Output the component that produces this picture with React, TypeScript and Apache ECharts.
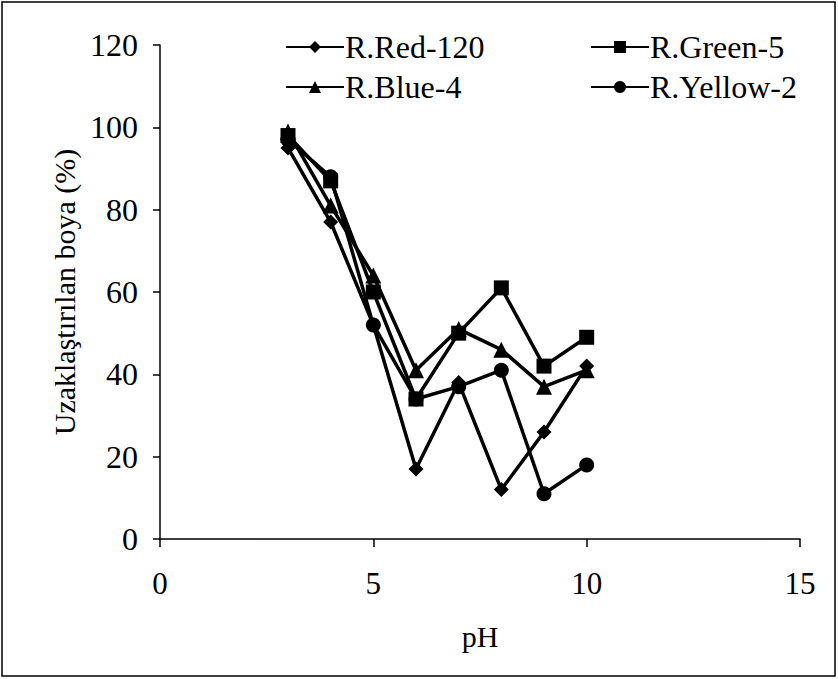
import React, { useEffect, useRef } from "react";
import * as echarts from "echarts";

const phValues = [3, 4, 5, 6, 7, 8, 9, 10];
const redValues = [95, 77, 52, 17, 38, 12, 26, 42];
const greenValues = [98, 87, 60, 34, 50, 61, 42, 49];
const blueValues = [99, 81, 64, 41, 51, 46, 37, 41];
const yellowValues = [97, 88, 52, 34, 37, 41, 11, 18];
const seriesNames = ["R.Red-120", "R.Green-5", "R.Blue-4", "R.Yellow-2"];
const seriesSymbols = ["diamond", "rect", "triangle", "circle"];
const seriesSizes = [15, 15, 16, 15];

const FONT = "Liberation Serif";

export default function App() {
  const ref = useRef<HTMLDivElement>(null);
  useEffect(() => {
    if (!ref.current) return;
    const chart = echarts.init(ref.current, null, { renderer: "svg" });
    const allValues = [redValues, greenValues, blueValues, yellowValues];
    const series = allValues.map((vals, i) => ({
      name: seriesNames[i],
      type: "line",
      data: phValues.map((x, j) => [x, vals[j]]),
      symbol: seriesSymbols[i],
      symbolSize: seriesSizes[i],
      showAllSymbol: true,
      lineStyle: { color: "#000", width: 3.5 },
      itemStyle: { color: "#000" },
      emphasis: { disabled: true },
    }));
    const legendCommon = {
      orient: "vertical",
      itemWidth: 58,
      itemHeight: 15,
      itemGap: 8,
      textStyle: { fontFamily: FONT, fontSize: 32, color: "#000", padding: [0, 0, 0, -4] },
      inactiveColor: "#000",
      selectedMode: false,
    };
    chart.setOption({
      animation: false,
      backgroundColor: "#fff",
      textStyle: { fontFamily: FONT },
      grid: { left: 160, right: 38, top: 45, bottom: 140, containLabel: false },
      legend: [
        { ...legendCommon, left: 280, top: 26, data: [seriesNames[0], seriesNames[2]] },
        { ...legendCommon, left: 585, top: 26, data: [seriesNames[1], seriesNames[3]] },
      ],
      graphic: [
        {
          type: "rect",
          shape: { x: 2, y: 2, width: 833, height: 674 },
          style: { fill: "none", stroke: "#000", lineWidth: 1.5 },
          silent: true,
        },
      ],
      xAxis: {
        type: "value",
        min: 0,
        max: 15,
        interval: 5,
        name: "pH",
        nameLocation: "middle",
        nameGap: 82,
        nameTextStyle: { fontFamily: FONT, fontSize: 30, color: "#000" },
        axisLine: { onZero: false, lineStyle: { color: "#000", width: 1.5 } },
        axisTick: { show: true, length: 8, lineStyle: { color: "#000", width: 1.5 } },
        axisLabel: { margin: 29, fontFamily: FONT, fontSize: 31, color: "#000" },
        splitLine: { show: false },
      },
      yAxis: {
        type: "value",
        min: 0,
        max: 120,
        interval: 20,
        name: "Uzaklaştırılan boya (%)",
        nameLocation: "middle",
        nameGap: 80,
        nameTextStyle: { fontFamily: FONT, fontSize: 30, color: "#000" },
        axisLine: { show: true, lineStyle: { color: "#000", width: 1.5 } },
        axisTick: { show: true, length: 7, lineStyle: { color: "#000", width: 1.5 } },
        axisLabel: { margin: 22, fontFamily: FONT, fontSize: 32, color: "#000" },
        splitLine: { show: false },
      },
      series,
    });
    return () => chart.dispose();
  }, []);
  return (
    <div
      ref={ref}
      style={{ position: "fixed", left: 0, top: 0, width: 838, height: 679 }}
    />
  );
}
